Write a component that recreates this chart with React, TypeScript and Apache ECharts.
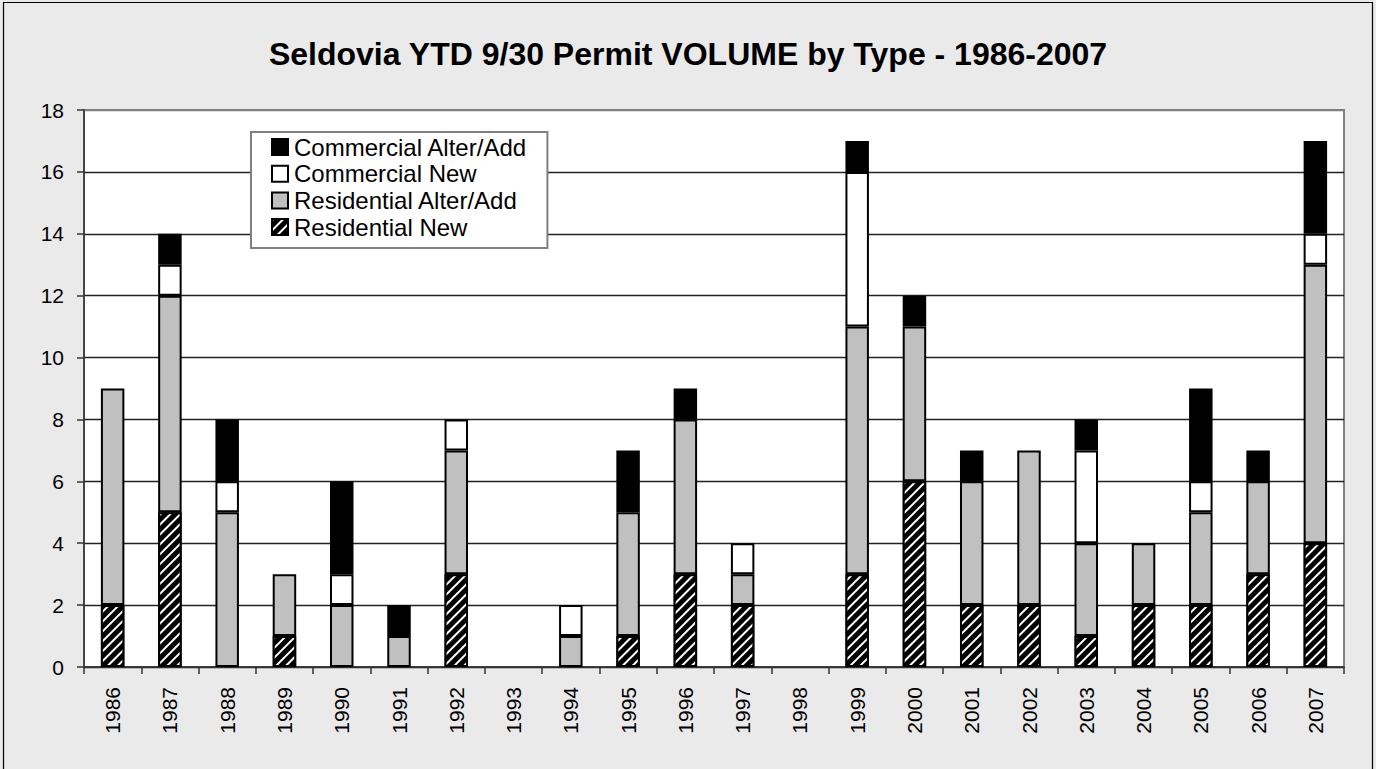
import React, { useEffect, useRef } from "react";
import * as echarts from "echarts";

const TITLE = "Seldovia YTD 9/30 Permit VOLUME by Type - 1986-2007";
const years = ["1986","1987","1988","1989","1990","1991","1992","1993","1994","1995","1996","1997","1998","1999","2000","2001","2002","2003","2004","2005","2006","2007"];
const residentialNew =      [2,5,0,1,0,0,3,0,0,1,3,2,0,3,6,2,2,1,2,2,3,4];
const residentialAlterAdd = [7,7,5,2,2,1,4,0,1,4,5,1,0,8,5,4,5,3,2,3,3,9];
const commercialNew =       [0,1,1,0,1,0,1,0,1,0,0,1,0,5,0,0,0,3,0,1,0,1];
const commercialAlterAdd =  [0,1,2,0,3,1,0,0,0,2,1,0,0,1,1,1,0,1,0,3,1,3];
const yTicks = { min: 0, max: 18, interval: 2 };

const FONT = 'Arial, "Liberation Sans", sans-serif';

export default function App() {
  const ref = useRef<HTMLDivElement>(null);
  useEffect(() => {
    if (!ref.current) return;
    const chart = echarts.init(ref.current, null, { renderer: "svg" });
    const clean = (arr: number[]) => arr.map((v) => (v === 0 ? "-" : v));
    const border = { borderColor: "#000", borderWidth: 2 };
    const gridColors = ["#222", "#222", "#222", "#222", "#222", "#222", "#222", "#222", "#222", "#808080"];
    chart.setOption({
      animation: false,
      backgroundColor: "#eaeaea",
      title: {
        text: TITLE,
        left: "center",
        top: 38,
        padding: 0,
        textStyle: { fontFamily: FONT, fontSize: 32, fontWeight: "bold", color: "#000" },
      },
      graphic: [
        {
          type: "rect",
          shape: { x: 3.5, y: 2.5, width: 1369, height: 780 },
          style: { fill: "none", stroke: "#000", lineWidth: 1.2 },
          silent: true,
        },
      ],
      legend: {
        orient: "vertical",
        left: 251,
        top: 132,
        padding: [3, 20, 9, 20],
        itemGap: 2.7,
        itemWidth: 16,
        itemHeight: 16,
        backgroundColor: "#fff",
        borderColor: "#808080",
        borderWidth: 2,
        borderRadius: 0,
        icon: "rect",
        textStyle: { fontFamily: FONT, fontSize: 24, color: "#000", padding: [0, 0, 0, 1] },
        data: ["Commercial Alter/Add", "Commercial New", "Residential Alter/Add", "Residential New"],
      },
      grid: {
        left: 84,
        right: 32,
        top: 110,
        bottom: 102,
        show: true,
        backgroundColor: "#fff",
        borderColor: "#808080",
        borderWidth: 2,
      },
      xAxis: {
        type: "category",
        data: years,
        boundaryGap: true,
        axisLine: { show: true, lineStyle: { color: "#333", width: 1.5 } },
        axisTick: { show: true, length: 7, lineStyle: { color: "#333", width: 1.5 } },
        axisLabel: {
          rotate: 90,
          margin: 20,
          fontFamily: FONT,
          fontSize: 21,
          color: "#000",
          interval: 0,
        },
      },
      yAxis: {
        type: "value",
        min: yTicks.min,
        max: yTicks.max,
        interval: yTicks.interval,
        axisLine: { show: true, lineStyle: { color: "#333", width: 1.5 } },
        axisTick: { show: true, length: 7, lineStyle: { color: "#333", width: 1.5 } },
        axisLabel: { margin: 20, fontFamily: FONT, fontSize: 21, color: "#000" },
        splitLine: { show: true, lineStyle: { color: gridColors, width: 1.3 } },
      },
      series: [
        {
          name: "Residential New",
          type: "bar",
          stack: "total",
          barWidth: "41%",
          data: clean(residentialNew),
          itemStyle: {
            color: "#000",
            ...border,
            decal: {
              symbol: "rect",
              symbolSize: 1,
              color: "#fff",
              dashArrayX: [1, 0],
              dashArrayY: [2, 5],
              rotation: -Math.PI / 4,
            },
          },
        },
        {
          name: "Residential Alter/Add",
          type: "bar",
          stack: "total",
          data: clean(residentialAlterAdd),
          itemStyle: { color: "#c0c0c0", ...border },
        },
        {
          name: "Commercial New",
          type: "bar",
          stack: "total",
          data: clean(commercialNew),
          itemStyle: { color: "#fff", ...border },
        },
        {
          name: "Commercial Alter/Add",
          type: "bar",
          stack: "total",
          data: clean(commercialAlterAdd),
          itemStyle: { color: "#000", ...border },
        },
      ],
    });
    return () => chart.dispose();
  }, []);
  return (
    <div
      ref={ref}
      style={{ position: "fixed", left: 0, top: 0, width: 1376, height: 769 }}
    />
  );
}
